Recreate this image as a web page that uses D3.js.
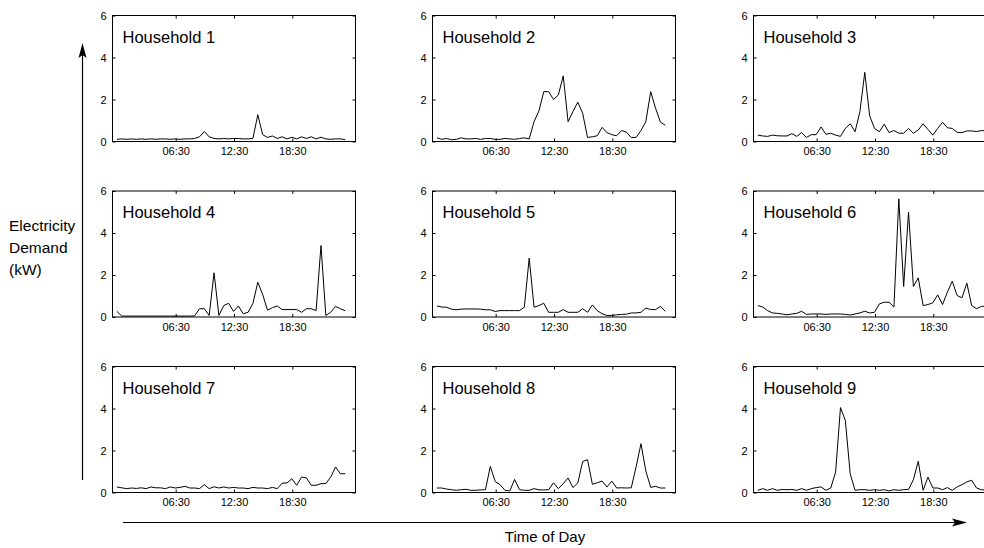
<!DOCTYPE html>
<html>
<head>
  <meta charset="utf-8">
  <script src="https://d3js.org/d3.v7.min.js"></script>
  <style>
    body { margin: 0; background: #fff; }
    text { font-family: "Liberation Sans", Arial, sans-serif; fill: #000; }
  </style>
</head>
<body>
  <svg id="chart"></svg>
  <script>
    // half-hour slots (hours), one value per slot
    let slots = d3.range(1, 49).map(k => k * 0.5);

    let tickHours = [6.5, 12.5, 18.5];
    let tickLabels = ["06:30", "12:30", "18:30"];
    let yTicks = [0, 2, 4, 6];

    let names = ["Household 1", "Household 2", "Household 3",
                 "Household 4", "Household 5", "Household 6",
                 "Household 7", "Household 8", "Household 9"];

    // demand readings (kW)
    let hh1 = [0.08,0.1,0.08,0.1,0.08,0.1,0.08,0.1,0.08,0.1, 0.1,0.08,0.1,0.08,0.1,0.1,0.12,0.2,0.45,0.2,
               0.12,0.1,0.12,0.1,0.12,0.12,0.1,0.1,0.13,1.25, 0.3,0.17,0.24,0.12,0.2,0.1,0.18,0.1,0.2,0.12,
               0.2,0.1,0.18,0.1,0.08,0.1,0.1,0.06];
    let hh2 = [0.15,0.08,0.12,0.06,0.08,0.15,0.1,0.1,0.12,0.08, 0.12,0.12,0.08,0.08,0.12,0.1,0.08,0.12,0.15,0.1,
               0.92,1.43,2.35,2.35,1.98,2.19,3.1,0.92,1.4,1.85, 1.32,0.17,0.2,0.25,0.65,0.4,0.3,0.25,0.5,0.42,
               0.17,0.17,0.5,0.92,2.35,1.56,0.9,0.75];
    let hh3 = [0.28,0.24,0.22,0.28,0.25,0.24,0.24,0.35,0.22,0.4, 0.17,0.3,0.3,0.67,0.32,0.37,0.28,0.22,0.6,0.82,
               0.44,1.4,3.27,1.2,0.6,0.44,0.8,0.4,0.5,0.37, 0.37,0.6,0.37,0.52,0.82,0.55,0.28,0.6,0.89,0.63,
               0.6,0.41,0.4,0.48,0.48,0.45,0.5,0.48];
    let hh4 = [0.25,0.02,0.02,0.02,0.02,0.02,0.02,0.02,0.02,0.02, 0.02,0.02,0.02,0.02,0.02,0.02,0.03,0.37,0.37,0.05,
               2.08,0.05,0.52,0.63,0.24,0.5,0.13,0.2,0.63,1.63, 1.05,0.3,0.42,0.5,0.33,0.33,0.33,0.33,0.2,0.37,
               0.37,0.28,3.38,0.05,0.2,0.48,0.37,0.27];
    let hh5 = [0.5,0.45,0.44,0.35,0.32,0.35,0.36,0.36,0.36,0.35, 0.32,0.32,0.24,0.28,0.28,0.28,0.28,0.28,0.44,2.78,
               0.44,0.52,0.63,0.2,0.2,0.2,0.33,0.2,0.2,0.2, 0.37,0.2,0.55,0.28,0.13,0.05,0.05,0.08,0.1,0.11,
               0.17,0.17,0.2,0.4,0.33,0.33,0.48,0.25];
    let hh6 = [0.52,0.45,0.28,0.17,0.15,0.12,0.08,0.12,0.15,0.25, 0.1,0.12,0.12,0.12,0.1,0.12,0.12,0.12,0.1,0.07,
               0.12,0.17,0.25,0.17,0.2,0.6,0.68,0.68,0.45,5.6, 1.43,4.97,1.43,1.84,0.52,0.57,0.65,1.03,0.57,1.16,
               1.68,1.0,0.89,1.59,0.52,0.37,0.48,0.5];
    let hh7 = [0.24,0.2,0.16,0.19,0.17,0.2,0.16,0.24,0.2,0.2, 0.16,0.24,0.19,0.22,0.27,0.19,0.19,0.16,0.35,0.16,
               0.25,0.19,0.24,0.19,0.22,0.19,0.19,0.16,0.22,0.19, 0.19,0.16,0.22,0.16,0.42,0.43,0.63,0.32,0.71,0.67,
               0.32,0.32,0.4,0.4,0.71,1.19,0.87,0.87];
    let hh8 = [0.19,0.19,0.14,0.11,0.08,0.11,0.13,0.08,0.08,0.1, 0.11,1.22,0.5,0.35,0.08,0.05,0.6,0.11,0.08,0.08,
               0.16,0.1,0.1,0.11,0.44,0.16,0.4,0.67,0.21,0.43, 1.45,1.54,0.37,0.44,0.52,0.24,0.52,0.19,0.2,0.19,
               0.2,1.2,2.3,1.0,0.22,0.27,0.19,0.19];
    let hh9 = [0.08,0.16,0.08,0.16,0.08,0.12,0.11,0.12,0.08,0.16, 0.08,0.16,0.21,0.24,0.08,0.19,0.95,4.02,3.41,0.87,
               0.08,0.11,0.11,0.08,0.11,0.08,0.11,0.05,0.11,0.08, 0.11,0.12,0.59,1.46,0.08,0.71,0.19,0.19,0.11,0.21,
               0.08,0.24,0.35,0.48,0.56,0.19,0.11,0.1];

    let series = [hh1, hh2, hh3, hh4, hh5, hh6, hh7, hh8, hh9];

    // layout
    let width = 984, height = 548;
    let colLeft = [112, 432, 753];
    let rowTop = [15, 190.5, 366];
    let pw = 243, ph = 126;

    let svg = d3.select("#chart")
      .attr("width", width)
      .attr("height", height);

    svg.append("rect").attr("width", width).attr("height", height).attr("fill", "#fff");

    series.forEach((vals, i) => {
      let x0 = colLeft[i % 3], y0 = rowTop[Math.floor(i / 3)];
      let x = d3.scaleLinear().domain([0, 25]).range([0, pw]);
      let y = d3.scaleLinear().domain([0, 6]).range([ph, 0]);

      let g = svg.append("g").attr("transform", `translate(${x0},${y0})`);

      // frame
      g.append("rect")
        .attr("x", 0.5).attr("y", 0.5)
        .attr("width", pw).attr("height", ph)
        .attr("fill", "none").attr("stroke", "#000").attr("stroke-width", 1);

      // inward ticks on all sides
      let bottom = g.append("g").attr("transform", `translate(0.5,${ph + 0.5})`)
        .call(d3.axisBottom(x).tickValues(tickHours).tickFormat((d, j) => tickLabels[j]).tickSize(-3).tickPadding(6));
      let top = g.append("g").attr("transform", "translate(0.5,0.5)")
        .call(d3.axisTop(x).tickValues(tickHours).tickFormat("").tickSize(-3));
      let left = g.append("g").attr("transform", "translate(0.5,0.5)")
        .call(d3.axisLeft(y).tickValues(yTicks).tickFormat(d3.format("d")).tickSize(-3).tickPadding(6));
      let right = g.append("g").attr("transform", `translate(${pw + 0.5},0.5)`)
        .call(d3.axisRight(y).tickValues(yTicks).tickFormat("").tickSize(-3));

      [bottom, top, left, right].forEach(a => {
        a.select(".domain").remove();
        a.selectAll("line").attr("stroke", "#000");
        a.selectAll("text").attr("font-size", 11).attr("font-family", "'Liberation Sans', Arial, sans-serif").attr("fill", "#000");
      });

      // demand line
      let line = d3.line()
        .x((d, j) => x(slots[j]))
        .y(d => y(d));

      g.append("path")
        .datum(vals)
        .attr("d", line)
        .attr("fill", "none")
        .attr("stroke", "#000")
        .attr("stroke-width", 1);

      g.append("text")
        .attr("x", 10.5).attr("y", 27.5)
        .attr("font-size", 16.5)
        .text(names[i]);
    });

    // y axis label + arrow
    let ylab = svg.append("text").attr("font-size", 15.5);
    ["Electricity", "Demand", "(kW)"].forEach((t, i) => {
      ylab.append("tspan").attr("x", 9).attr("y", 231 + i * 22).text(t);
    });

    svg.append("line")
      .attr("x1", 82.5).attr("y1", 480).attr("x2", 82.5).attr("y2", 50)
      .attr("stroke", "#000").attr("stroke-width", 1.2);
    svg.append("path")
      .attr("d", "M82.5,43 L78.5,58 L82.5,55 L86.5,58 Z")
      .attr("fill", "#000");

    // x axis label + arrow
    svg.append("line")
      .attr("x1", 123).attr("y1", 522.5).attr("x2", 960).attr("y2", 522.5)
      .attr("stroke", "#000").attr("stroke-width", 1.2);
    svg.append("path")
      .attr("d", "M967,522.5 L952,518.5 L955,522.5 L952,526.5 Z")
      .attr("fill", "#000");

    svg.append("text")
      .attr("x", 545).attr("y", 542)
      .attr("text-anchor", "middle")
      .attr("font-size", 15)
      .text("Time of Day");
  </script>
</body>
</html>
